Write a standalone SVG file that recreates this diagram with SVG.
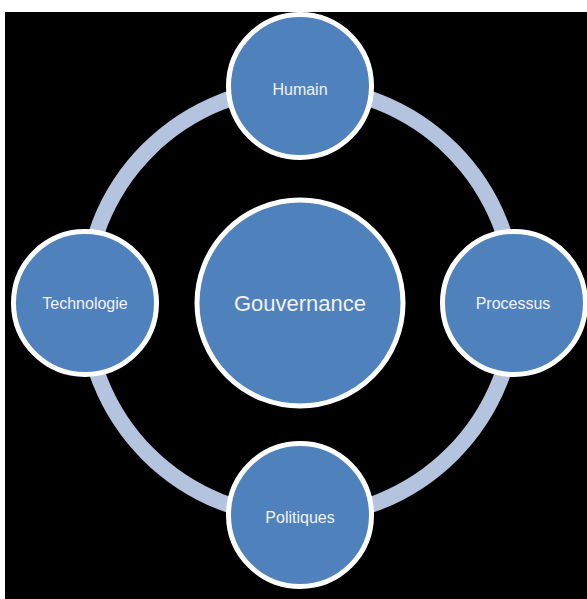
<svg xmlns="http://www.w3.org/2000/svg" width="587" height="599" viewBox="0 0 587 599">
<style>
.node{fill:#4f81bd;stroke:#ffffff;stroke-width:5}
.lbl{fill:#f2f2f2;font-family:"Liberation Sans",Arial,sans-serif;font-size:16px;text-anchor:middle}
.big{font-size:22px}
.ring{fill:none;stroke:#b4c4df;stroke-width:16}
</style>
<rect x="0" y="0" width="587" height="599" fill="#ffffff"/>
<rect x="5" y="12" width="582" height="587" fill="#000000"/>
<g id="connectors">
<circle class="ring" cx="300" cy="302" r="215"/>
</g>
<g id="gouvernance">
<circle class="node" cx="300" cy="303" r="103"/>
<text class="lbl big" x="300" y="311">Gouvernance</text>
</g>
<g id="humain">
<circle class="node" cx="300" cy="86" r="71.5"/>
<text class="lbl" x="300" y="95">Humain</text>
</g>
<g id="technologie">
<circle class="node" cx="85" cy="303" r="71.5"/>
<text class="lbl" x="85" y="309">Technologie</text>
</g>
<g id="processus">
<circle class="node" cx="514" cy="303" r="71.5"/>
<text class="lbl" x="513" y="309">Processus</text>
</g>
<g id="politiques">
<circle class="node" cx="300" cy="515" r="71.5"/>
<text class="lbl" x="300" y="523">Politiques</text>
</g>
</svg>
